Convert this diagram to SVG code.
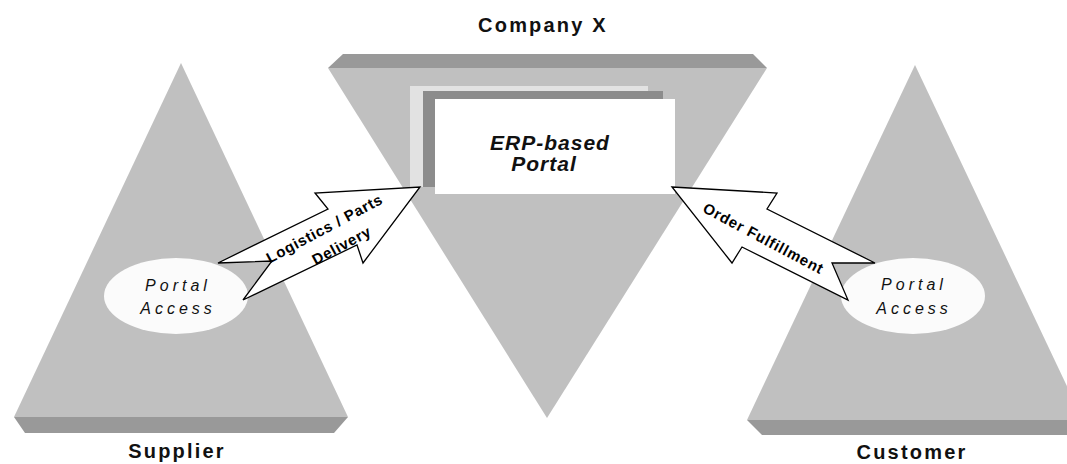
<svg xmlns="http://www.w3.org/2000/svg" width="1067" height="464" viewBox="0 0 1067 464">
<style>
.face{fill:#c0c0c0}
.edge{fill:#999999}
.title{font-family:"Liberation Sans",Arial,sans-serif;font-weight:bold;font-size:20px;letter-spacing:2.2px;fill:#111;text-anchor:middle}
.acc{font-family:"Liberation Sans",Arial,sans-serif;font-style:italic;font-size:16px;letter-spacing:4px;fill:#111;text-anchor:middle}
.erp{font-family:"Liberation Sans",Arial,sans-serif;font-style:italic;font-weight:bold;font-size:21px;letter-spacing:1px;fill:#111;text-anchor:middle}
.arrow{fill:#ffffff;stroke:#000;stroke-width:1.3;stroke-linejoin:miter}
.alab{font-family:"Liberation Sans",Arial,sans-serif;font-weight:bold;font-size:15px;letter-spacing:0.8px;fill:#000;text-anchor:middle}
.ell{fill:#fbfbfb}
</style>
<rect width="1067" height="464" fill="#ffffff"/>
<g id="supplier">
<polygon class="face" points="181,63 348,417 14,417"/>
<polygon class="edge" points="14,417 348,417 334,433 25,433"/>
<text class="title" x="177" y="458">Supplier</text>
</g>
<g id="customer">
<polygon class="face" points="915,65 1083,420 747,420"/>
<polygon class="edge" points="747,420 1083,420 1070,435 762,435"/>
<text class="title" x="912" y="459">Customer</text>
</g>
<g id="companyX">
<polygon class="edge" points="343,54 753,54 767,68 328,68"/>
<polygon class="face" points="328,68 767,68 547,418"/>
<text class="title" x="543" y="32">Company X</text>
</g>
<g id="portal">
<rect x="410" y="86" width="238" height="101" fill="#e2e2e2"/>
<rect x="423" y="91" width="240" height="96" fill="#8c8c8c"/>
<rect x="435" y="99" width="240" height="95" fill="#ffffff"/>
<text class="erp" x="550" y="150">ERP-based</text>
<text class="erp" x="544" y="171">Portal</text>
</g>
<g id="supplierAccess">
<ellipse class="ell" cx="176" cy="296" rx="72" ry="38"/>
<text class="acc" x="178" y="291">Portal</text>
<text class="acc" x="178" y="314">Access</text>
</g>
<g id="customerAccess">
<ellipse class="ell" cx="913" cy="296" rx="72" ry="38"/>
<text class="acc" x="914" y="290">Portal</text>
<text class="acc" x="914" y="314">Access</text>
</g>
<g id="connectors">
<g id="logistics">
<polygon class="arrow" points="218,263 328,209 315,193 420,187 363,263 357,245 243,300 272,261"/>
<text class="alab" transform="translate(327,233) rotate(-28)">Logistics / Parts</text>
<text class="alab" transform="translate(344,250) rotate(-28)">Delivery</text>
</g>
<g id="orderFulfillment">
<polygon class="arrow" points="672,187 777,193 767,209 875,263 832,263 848,300 742,247 732,263"/>
<text class="alab" transform="translate(761,243) rotate(28)">Order Fulfillment</text>
</g>
</g>
</svg>
